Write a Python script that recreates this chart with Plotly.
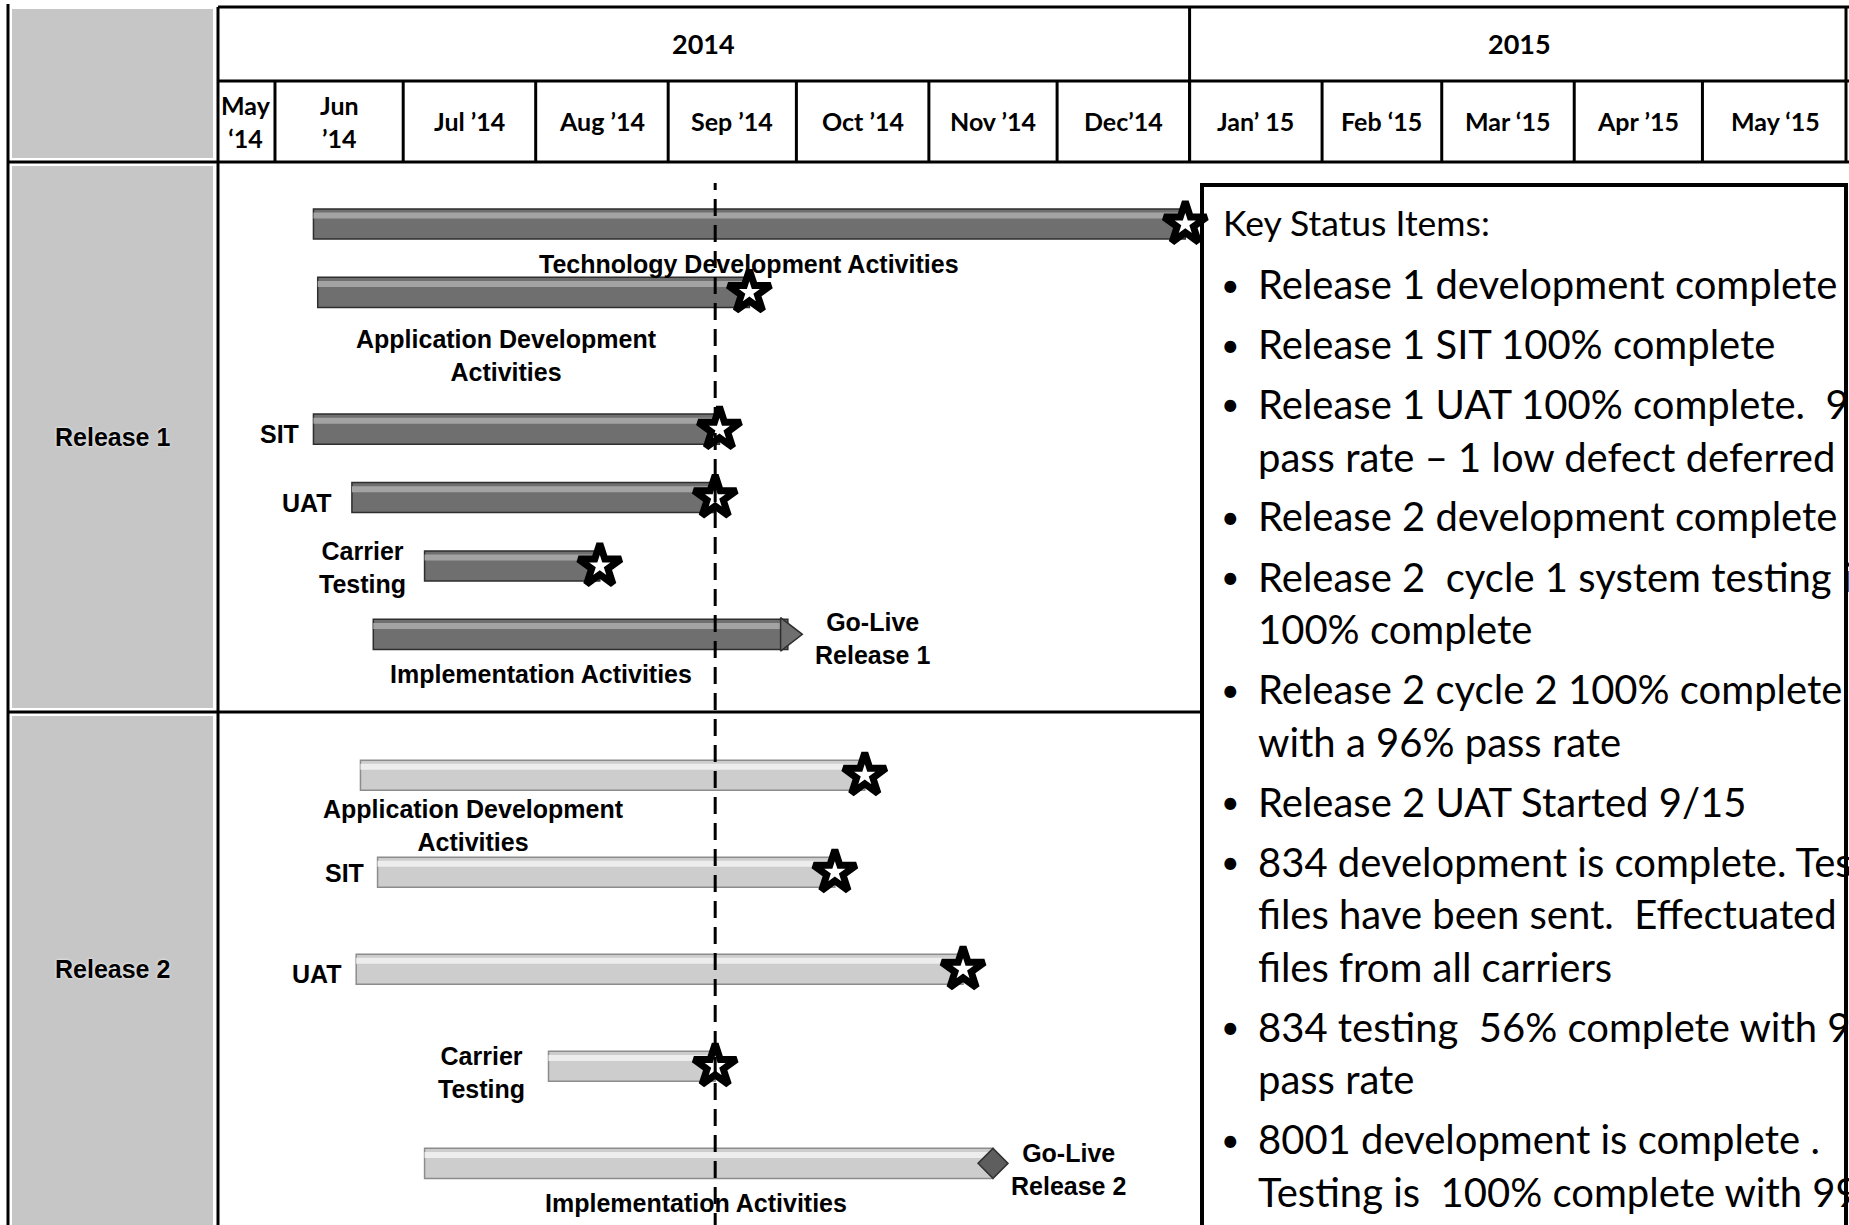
import pandas as pd
import plotly.graph_objects as go

# ------------------------------------------------------------------ data
MONTH_LABELS = ["May<br>‘14", "Jun<br>’14", "Jul ’14", "Aug ’14", "Sep ’14", "Oct ’14",
                "Nov ’14", "Dec’14", "Jan’ 15", "Feb ‘15", "Mar ‘15", "Apr ’15", "May ‘15"]
MONTH_STARTS = ["2014-05-01", "2014-06-01", "2014-07-01", "2014-08-01", "2014-09-01",
                "2014-10-01", "2014-11-01", "2014-12-01", "2015-01-01", "2015-02-01",
                "2015-03-01", "2015-04-01", "2015-05-01"]
YEAR_LABELS = ["2014", "2015"]
YEAR_STARTS = ["2014-05-01", "2015-01-01"]
STATUS_DATE = "2014-09-12"

SECTION_NAMES = ["Release 1", "Release 2"]

R1_TASKS = ["Technology Development Activities", "Application Development Activities",
            "SIT", "UAT", "Carrier Testing", "Implementation Activities"]
R1_LABELS = ["Technology Development Activities", "Application Development<br>Activities",
             "SIT", "UAT", "Carrier<br>Testing", "Implementation Activities"]
R1_START = ["2014-06-10", "2014-06-11", "2014-06-10", "2014-06-19", "2014-07-06", "2014-06-24"]
R1_END = ["2014-12-31", "2014-09-20", "2014-09-13", "2014-09-12", "2014-08-16", "2014-09-29"]
R1_MILESTONE = ["star", "star", "star", "star", "star", "arrow"]
R1_GOLIVE = "Go-Live<br>Release 1"

R2_TASKS = ["Application Development Activities", "SIT", "UAT", "Carrier Testing",
            "Implementation Activities"]
R2_LABELS = ["Application Development<br>Activities", "SIT", "UAT", "Carrier<br>Testing",
             "Implementation Activities"]
R2_START = ["2014-06-21", "2014-06-25", "2014-06-20", "2014-08-04", "2014-07-06"]
R2_END = ["2014-10-17", "2014-10-10", "2014-11-09", "2014-09-12", "2014-11-16"]
R2_MILESTONE = ["star", "star", "star", "star", "diamond"]
R2_GOLIVE = "Go-Live<br>Release 2"

STATUS_TITLE = "Key Status Items:"
STATUS_ITEMS = [
    ["Release 1 development complete"],
    ["Release 1 SIT 100% complete"],
    ["Release 1 UAT 100% complete.  99%", "pass rate – 1 low defect deferred"],
    ["Release 2 development complete"],
    ["Release 2  cycle 1 system testing is", "100% complete"],
    ["Release 2 cycle 2 100% complete", "with a 96% pass rate"],
    ["Release 2 UAT Started 9/15"],
    ["834 development is complete. Test", "files have been sent.  Effectuated",
     "files from all carriers"],
    ["834 testing  56% complete with 97%", "pass rate"],
    ["8001 development is complete .", "Testing is  100% complete with 99%"],
]

# ------------------------------------------------------------------ layout / style
W, H = 1849, 1225


def fx(p):
    return p / W


def fy(p):
    return 1 - p / H


X_RANGE = [pd.Timestamp("2014-05-18 16:00"), pd.Timestamp("2015-06-04 07:00")]
PLOT_LEFT, HEADER_TOP, YEAR_BOTTOM, HEADER_BOTTOM, SPLIT = 218, 7, 81, 162, 712
BOX_LEFT, BOX_TOP, BOX_RIGHT = 1202, 185, 1846
COL_LEFT, COL_IN_L, COL_IN_R = 8, 12, 213

R1_RANGE = [7.135, -0.906]
R2_RANGE = [4.635, -0.651]
R1_BAR_W, R2_BAR_W = 0.44, 0.31
SPACER = " "

# (placement, xshift px, offset below bar centre px)
R1_LABEL_LAYOUT = [("below", 0, 40), ("below", -27, 63), ("left", -12, 5),
                   ("left", -18, 5), ("left", -17, 2), ("below", -40, 40)]
R2_LABEL_LAYOUT = [("below", -139, 50), ("left", -12, 1), ("left", -12, 5),
                   ("left", -22, 6), ("below", -13, 40)]

LABEL_FONT = dict(family="Liberation Sans, Arial, sans-serif", size=25, color="black",
                  weight="bold")
HEAD_FONT = dict(family="Lato, sans-serif", size=25, color="black", weight="bold")
YEAR_FONT = dict(family="Lato, sans-serif", size=27, color="black", weight="bold")
STATUS_FONT = dict(family="Lato, sans-serif", size=40, color="black")
BULLET_FONT = dict(family="Lato, sans-serif", size=32, color="black")
TITLE_FONT = dict(family="Lato, sans-serif", size=35.5, color="black")

DARK, DARK_EDGE, DARK_HI = "#6f6f6f", "#2e2e2e", "#a3a3a3"
LIGHT, LIGHT_EDGE, LIGHT_HI = "#cdcdcd", "#8c8c8c", "#ededed"
GRAY_COL = "#c6c6c6"

fig = go.Figure()


def add_release(tasks, start, end, milestones, yaxis, bar_w, color, edge, hi):
    s = pd.to_datetime(pd.Series(start))
    e = pd.to_datetime(pd.Series(end))
    dur = ((e - s).dt.total_seconds() * 1000).tolist()
    fig.add_trace(go.Bar(
        y=tasks, x=dur, base=start, orientation="h", yaxis=yaxis, xaxis="x",
        width=bar_w, marker=dict(color=color, line=dict(color=edge, width=1.5)),
        customdata=list(zip(start, end)),
        hovertemplate="%{y}<br>%{customdata[0]} → %{customdata[1]}<extra></extra>",
        showlegend=False))
    fig.add_trace(go.Bar(
        y=tasks, x=dur, base=start, orientation="h", yaxis=yaxis, xaxis="x",
        width=bar_w * 0.2, offset=-bar_w * 0.38, marker=dict(color=hi, line=dict(width=0)),
        hoverinfo="skip", showlegend=False))
    stars = [i for i, m in enumerate(milestones) if m == "star"]
    fig.add_trace(go.Scatter(
        x=[end[i] for i in stars], y=[tasks[i] for i in stars], mode="markers",
        yaxis=yaxis, xaxis="x",
        marker=dict(symbol="star", size=32, color="white", line=dict(color="black", width=7)),
        hovertemplate="%{y} milestone: %{x}<extra></extra>", showlegend=False))
    arrows = [i for i, m in enumerate(milestones) if m == "arrow"]
    if arrows:
        fig.add_trace(go.Scatter(
            x=[end[i] for i in arrows], y=[tasks[i] for i in arrows], mode="markers",
            yaxis=yaxis, xaxis="x",
            marker=dict(symbol="triangle-right", size=29, color=color,
                        line=dict(color=edge, width=1.5)),
            hovertemplate="Go-Live: %{x}<extra></extra>", showlegend=False))
    diamonds = [i for i, m in enumerate(milestones) if m == "diamond"]
    if diamonds:
        fig.add_trace(go.Scatter(
            x=[end[i] for i in diamonds], y=[tasks[i] for i in diamonds], mode="markers",
            yaxis=yaxis, xaxis="x",
            marker=dict(symbol="diamond", size=23, color="#5e5e5e",
                        line=dict(color="#333333", width=1.5)),
            hovertemplate="Go-Live: %{x}<extra></extra>", showlegend=False))


add_release(R1_TASKS, R1_START, R1_END, R1_MILESTONE, "y", R1_BAR_W, DARK, DARK_EDGE, DARK_HI)
add_release(R2_TASKS, R2_START, R2_END, R2_MILESTONE, "y2", R2_BAR_W, LIGHT, LIGHT_EDGE, LIGHT_HI)

annotations = []
shapes = []


def task_labels(tasks, labels, start, end, milestones, layout, yref, golive, golive_shift):
    for t, lab, s, e, m, (kind, dx, dy) in zip(tasks, labels, start, end, milestones, layout):
        if kind == "left":
            annotations.append(dict(x=s, y=t, xref="x", yref=yref, text=lab, showarrow=False,
                                    xanchor="right", yanchor="middle", xshift=dx, yshift=-dy,
                                    align="center", font=LABEL_FONT))
        else:
            mid = pd.Timestamp(s) + (pd.Timestamp(e) - pd.Timestamp(s)) / 2
            annotations.append(dict(x=mid.strftime("%Y-%m-%d %H:%M"), y=t, xref="x", yref=yref,
                                    text=lab, showarrow=False, xanchor="center",
                                    yanchor="middle", xshift=dx, yshift=-dy, align="center",
                                    font=LABEL_FONT))
        if m in ("arrow", "diamond"):
            annotations.append(dict(x=e, y=t, xref="x", yref=yref, text=golive,
                                    showarrow=False, xanchor="left", yanchor="middle",
                                    xshift=golive_shift[0], yshift=-golive_shift[1],
                                    align="center", font=LABEL_FONT))


task_labels(R1_TASKS, R1_LABELS, R1_START, R1_END, R1_MILESTONE, R1_LABEL_LAYOUT, "y",
            R1_GOLIVE, (25, 4))
task_labels(R2_TASKS, R2_LABELS, R2_START, R2_END, R2_MILESTONE, R2_LABEL_LAYOUT, "y2",
            R2_GOLIVE, (16, 6))

# ---- left grey column with section names
for y0, y1 in [(HEADER_TOP + 2, HEADER_BOTTOM - 4), (HEADER_BOTTOM + 4, SPLIT - 4),
               (SPLIT + 4, H + 5)]:
    shapes.append(dict(type="rect", xref="paper", yref="paper", x0=fx(COL_IN_L),
                       x1=fx(COL_IN_R), y0=fy(y1), y1=fy(y0), fillcolor=GRAY_COL,
                       line=dict(width=0), layer="below"))
for name, (y0, y1) in zip(SECTION_NAMES, [(HEADER_BOTTOM, SPLIT), (SPLIT, H)]):
    annotations.append(dict(x=fx((COL_IN_L + COL_IN_R) / 2), y=fy((y0 + y1) / 2), xref="paper",
                            yref="paper", text=name, showarrow=False, xanchor="center",
                            yanchor="middle",
                            font=dict(LABEL_FONT, shadow="0px 0px 3px white")))

# ---- table lines
BLK = dict(color="black", width=3)
shapes += [
    dict(type="line", xref="paper", yref="paper", x0=fx(COL_LEFT), x1=fx(COL_LEFT),
         y0=fy(H + 5), y1=fy(HEADER_TOP - 3), line=BLK),
    dict(type="line", xref="paper", yref="paper", x0=fx(PLOT_LEFT), x1=fx(PLOT_LEFT),
         y0=fy(H + 5), y1=fy(HEADER_TOP), line=BLK),
    dict(type="line", xref="paper", yref="paper", x0=fx(PLOT_LEFT), x1=1,
         y0=fy(HEADER_TOP), y1=fy(HEADER_TOP), line=BLK),
    dict(type="line", xref="paper", yref="paper", x0=fx(PLOT_LEFT), x1=1,
         y0=fy(YEAR_BOTTOM), y1=fy(YEAR_BOTTOM), line=BLK),
    dict(type="line", xref="paper", yref="paper", x0=fx(COL_LEFT), x1=1,
         y0=fy(HEADER_BOTTOM), y1=fy(HEADER_BOTTOM), line=BLK),
    dict(type="line", xref="paper", yref="paper", x0=fx(COL_LEFT), x1=fx(BOX_LEFT),
         y0=fy(SPLIT), y1=fy(SPLIT), line=BLK),
    dict(type="line", xref="paper", yref="paper", x0=fx(BOX_RIGHT), x1=fx(BOX_RIGHT),
         y0=fy(HEADER_BOTTOM), y1=fy(HEADER_TOP), line=BLK),
]

# ---- header (months / years) from the date axis
ms = pd.to_datetime(pd.Series(MONTH_STARTS))
ends = list(ms[1:]) + [X_RANGE[1]]
for lab, a, b in zip(MONTH_LABELS, ms, ends):
    a_vis, b_vis = max(a, X_RANGE[0]), min(b, X_RANGE[1])
    if a > X_RANGE[0]:
        shapes.append(dict(type="line", xref="x", yref="paper", x0=a, x1=a,
                           y0=fy(HEADER_BOTTOM), y1=fy(YEAR_BOTTOM), line=BLK))
    mid = a_vis + (b_vis - a_vis) / 2
    annotations.append(dict(x=mid, y=fy((YEAR_BOTTOM + HEADER_BOTTOM) / 2), xref="x",
                            yref="paper", text=lab, showarrow=False, xanchor="center",
                            yanchor="middle", align="center", font=HEAD_FONT))
ys = pd.to_datetime(pd.Series(YEAR_STARTS))
yends = list(ys[1:]) + [X_RANGE[1]]
for lab, a, b in zip(YEAR_LABELS, ys, yends):
    a_vis, b_vis = max(a, X_RANGE[0]), min(b, X_RANGE[1])
    if a > X_RANGE[0]:
        shapes.append(dict(type="line", xref="x", yref="paper", x0=a, x1=a,
                           y0=fy(HEADER_BOTTOM), y1=fy(HEADER_TOP), line=BLK))
    mid = a_vis + (b_vis - a_vis) / 2
    annotations.append(dict(x=mid, y=fy((HEADER_TOP + YEAR_BOTTOM) / 2), xref="x",
                            yref="paper", text=lab, showarrow=False, xanchor="center",
                            yanchor="middle", font=YEAR_FONT))

# ---- status date line
shapes.append(dict(type="line", xref="x", yref="paper", x0=STATUS_DATE, x1=STATUS_DATE,
                   y0=fy(H + 5), y1=fy(183), line=dict(color="black", width=3, dash="17px,9px")))

# ---- key status box
shapes.append(dict(type="rect", xref="paper", yref="paper", x0=fx(BOX_LEFT), x1=fx(BOX_RIGHT),
                   y0=fy(H + 20), y1=fy(BOX_TOP), fillcolor="white",
                   line=dict(color="black", width=4), layer="below"))
annotations.append(dict(x=fx(1221), y=fy(223), xref="paper", yref="paper", text=STATUS_TITLE,
                        showarrow=False, xanchor="left", yanchor="middle", font=TITLE_FONT))
yy = 284
for item in STATUS_ITEMS:
    annotations.append(dict(x=fx(1230), y=fy(yy), xref="paper", yref="paper", text="•",
                            showarrow=False, xanchor="center", yanchor="middle",
                            font=BULLET_FONT))
    for line in item:
        annotations.append(dict(x=fx(1256), y=fy(yy), xref="paper", yref="paper",
                                text=line.replace("  ", "\u00a0 "), showarrow=False,
                                xanchor="left", yanchor="middle", font=STATUS_FONT))
        yy += 52.5
    yy += 7.5

r1_cats = R1_TASKS[:2] + [SPACER] + R1_TASKS[2:]

fig.update_layout(
    width=W, height=H, margin=dict(l=0, r=0, t=0, b=0),
    paper_bgcolor="white", plot_bgcolor="rgba(0,0,0,0)",
    barmode="overlay", showlegend=False,
    xaxis=dict(type="date", domain=[fx(PLOT_LEFT), 1], range=X_RANGE, showticklabels=False,
               showgrid=False, zeroline=False, showline=False, ticks="", anchor="y",
               fixedrange=True),
    yaxis=dict(type="category", domain=[fy(SPLIT), fy(HEADER_BOTTOM)], range=R1_RANGE,
               categoryorder="array", categoryarray=r1_cats, showticklabels=False,
               showgrid=False, zeroline=False, showline=False, ticks="", anchor="x",
               fixedrange=True),
    yaxis2=dict(type="category", domain=[0, fy(SPLIT)], range=R2_RANGE,
                categoryorder="array", categoryarray=R2_TASKS, showticklabels=False,
                showgrid=False, zeroline=False, showline=False, ticks="", anchor="x",
                fixedrange=True),
    shapes=shapes, annotations=annotations,
    hoverlabel=dict(font=dict(family="Liberation Sans, Arial, sans-serif")),
)

fig.write_html("out.html", config={"displayModeBar": False},
               post_script="document.body.style.margin='0';"
                           "document.body.style.overflow='hidden';")
